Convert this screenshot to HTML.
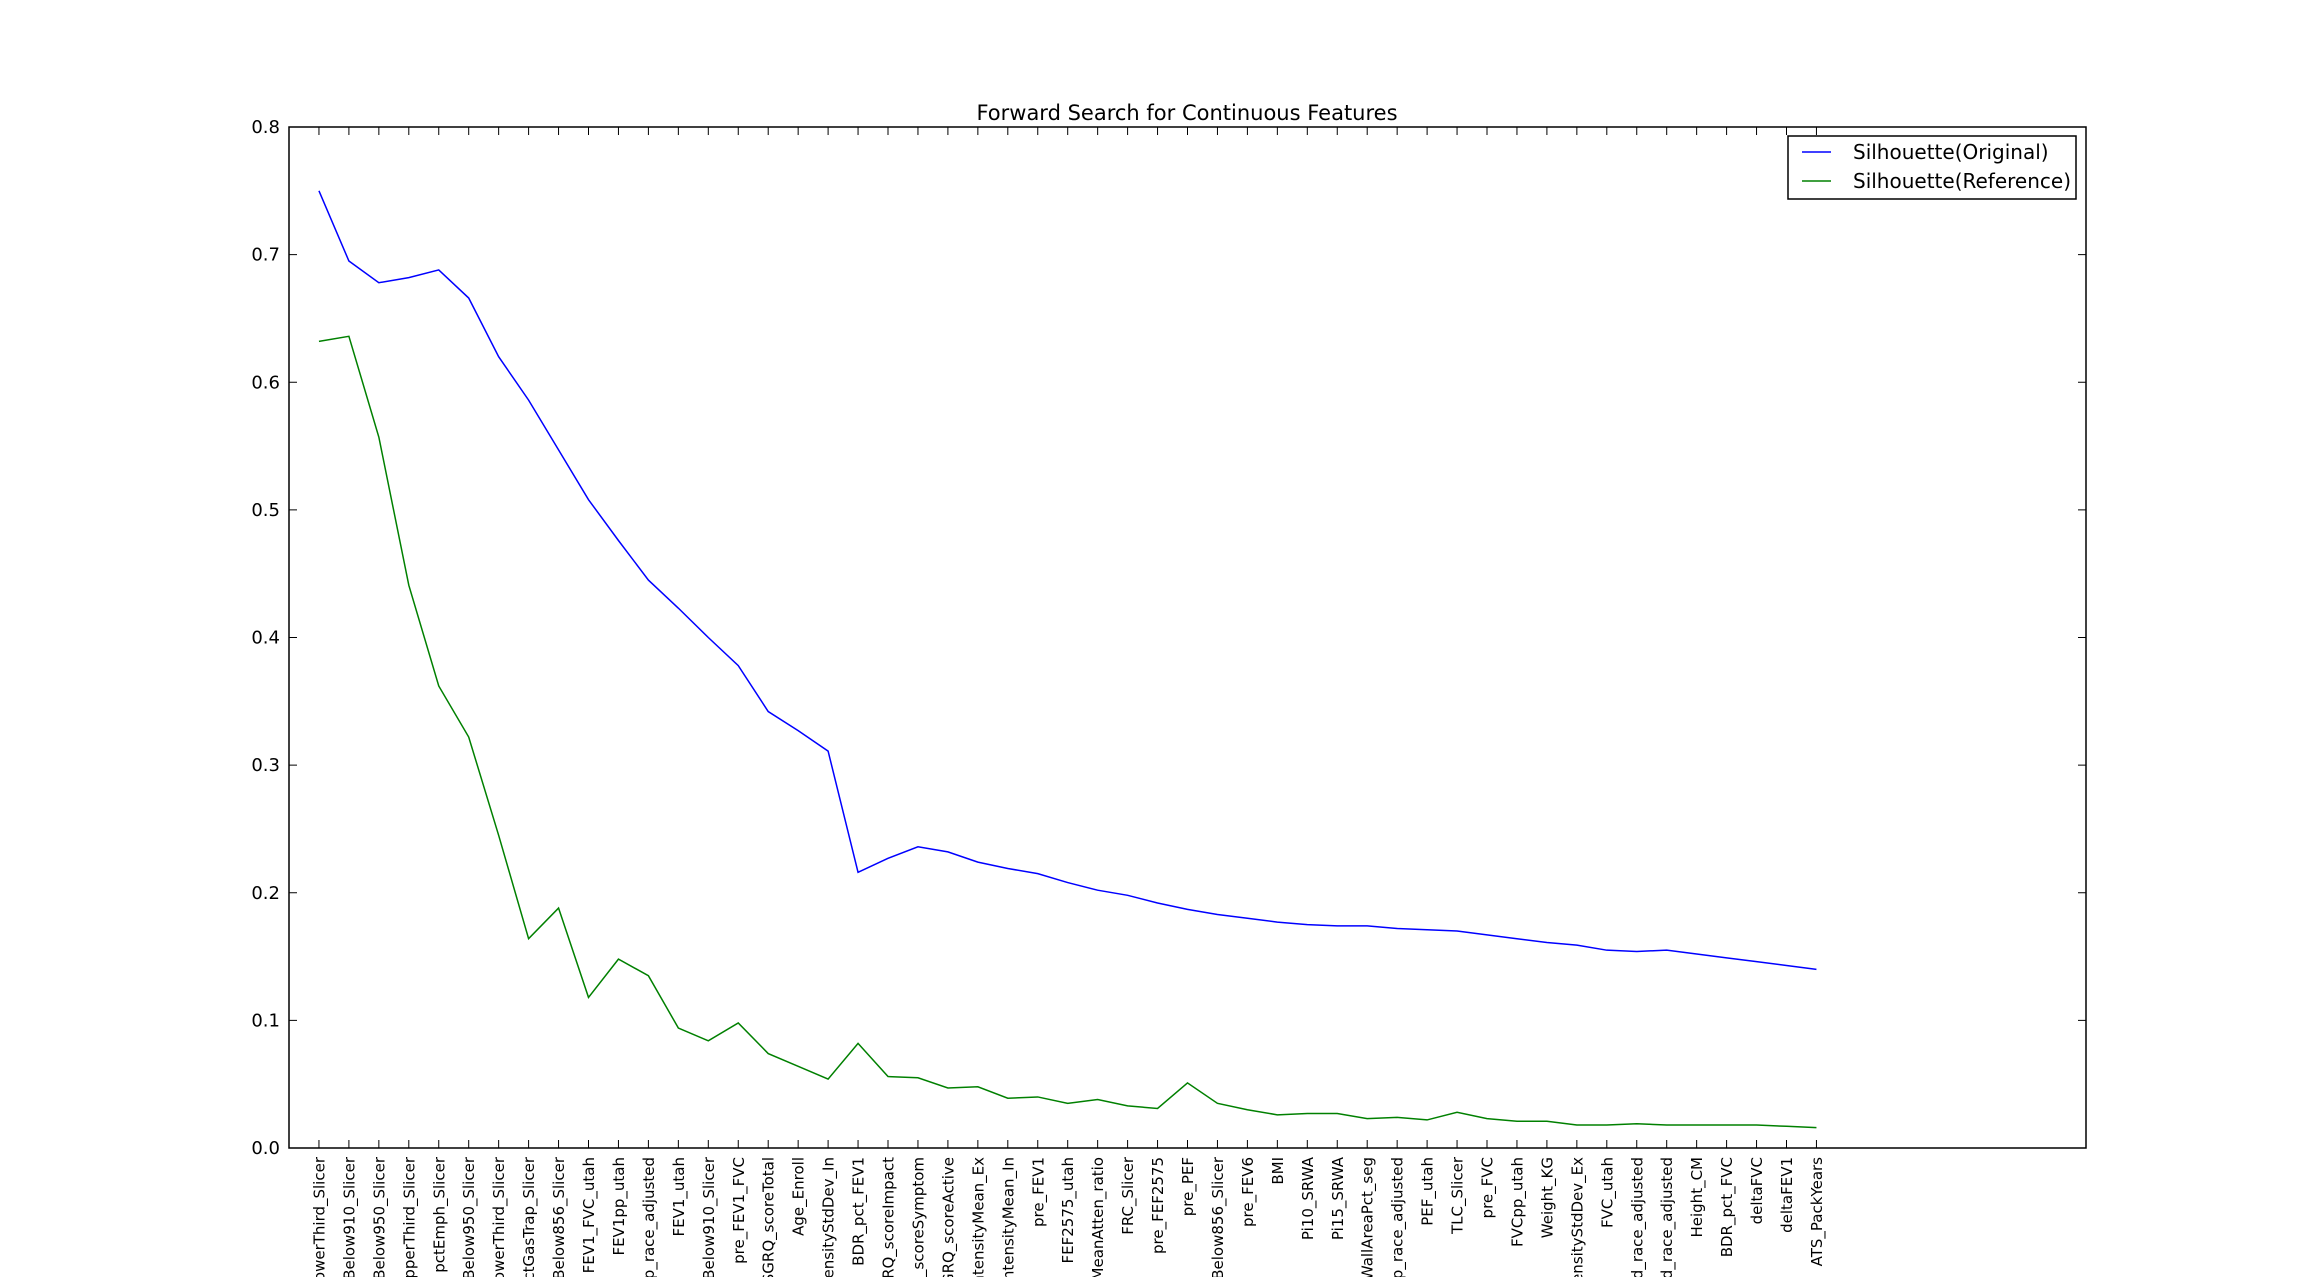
<!DOCTYPE html>
<html><head><meta charset="utf-8"><style>
html,body{margin:0;background:#fff;width:2318px;height:1277px;overflow:hidden;}
svg{display:block;font-family:"DejaVu Sans","Liberation Sans",sans-serif;}
</style></head><body>
<svg id="chart" width="2318" height="1277">
<text x="1187" y="120" text-anchor="middle" font-size="21">Forward Search for Continuous Features</text>
<g id="plot"></g>
<g id="legend">
<rect x="1788" y="136" width="288" height="63" fill="#fff" stroke="#000" stroke-width="1.5"/>
<line x1="1802" y1="152" x2="1831" y2="152" stroke="#0000ff" stroke-width="1.5"/>
<text x="1853" y="159" font-size="20">Silhouette(Original)</text>
<line x1="1802" y1="181" x2="1831" y2="181" stroke="#008000" stroke-width="1.5"/>
<text x="1853" y="188" font-size="20">Silhouette(Reference)</text>
</g>
</svg>
<script>
const categories = ["_LowerThird_Slicer","_Below910_Slicer","_Below950_Slicer","_UpperThird_Slicer","pctEmph_Slicer","_Below950_Slicer","_LowerThird_Slicer","pctGasTrap_Slicer","_Below856_Slicer","FEV1_FVC_utah","FEV1pp_utah","FEV1pp_race_adjusted","FEV1_utah","_Below910_Slicer","pre_FEV1_FVC","SGRQ_scoreTotal","Age_Enroll","IntensityStdDev_In","BDR_pct_FEV1","SGRQ_scoreImpact","SGRQ_scoreSymptom","SGRQ_scoreActive","IntensityMean_Ex","IntensityMean_In","pre_FEV1","FEF2575_utah","pMeanAtten_ratio","FRC_Slicer","pre_FEF2575","pre_PEF","_Below856_Slicer","pre_FEV6","BMI","Pi10_SRWA","Pi15_SRWA","WallAreaPct_seg","FVCpp_race_adjusted","PEF_utah","TLC_Slicer","pre_FVC","FVCpp_utah","Weight_KG","IntensityStdDev_Ex","FVC_utah","predicted_race_adjusted","predicted_race_adjusted","Height_CM","BDR_pct_FVC","deltaFVC","deltaFEV1","ATS_PackYears"];
const originalValues = [0.750,0.695,0.678,0.682,0.688,0.666,0.620,0.586,0.547,0.508,0.476,0.445,0.423,0.400,0.378,0.342,0.327,0.311,0.216,0.227,0.236,0.232,0.224,0.219,0.215,0.208,0.202,0.198,0.192,0.187,0.183,0.180,0.177,0.175,0.174,0.174,0.172,0.171,0.170,0.167,0.164,0.161,0.159,0.155,0.154,0.155,0.152,0.149,0.146,0.143,0.140];
const referenceValues = [0.632,0.636,0.557,0.441,0.362,0.322,0.245,0.164,0.188,0.118,0.148,0.135,0.094,0.084,0.098,0.074,0.064,0.054,0.082,0.056,0.055,0.047,0.048,0.039,0.040,0.035,0.038,0.033,0.031,0.051,0.035,0.030,0.026,0.027,0.027,0.023,0.024,0.022,0.028,0.023,0.021,0.021,0.018,0.018,0.019,0.018,0.018,0.018,0.018,0.017,0.016];
const yTickLabels = ["0.0","0.1","0.2","0.3","0.4","0.5","0.6","0.7","0.8"];
const yTickValues = [0,0.1,0.2,0.3,0.4,0.5,0.6,0.7,0.8];

const NS="http://www.w3.org/2000/svg";
const L=289,R=2086,T=127,B=1148;
const xMin=-1,xMax=59,yMin=0,yMax=0.8;
const xs=i=>L+(i-xMin)/(xMax-xMin)*(R-L);
const ys=v=>B-(v-yMin)/(yMax-yMin)*(B-T);
const g=document.getElementById('plot');
function mk(tag,attrs){const e=document.createElementNS(NS,tag);for(const k in attrs)e.setAttribute(k,attrs[k]);g.appendChild(e);return e;}

function series(vals,color,name){
  const p=mk('polyline',{points:vals.map((v,i)=>xs(i)+','+ys(v)).join(' '),fill:'none',stroke:color,'stroke-width':1.5});
  
  
}
series(originalValues,'#0000ff','line-silhouette-original');
series(referenceValues,'#008000','line-silhouette-reference');

const fr=mk('rect',{x:L,y:T,width:R-L,height:B-T,fill:'none',stroke:'#000','stroke-width':1.5});



yTickValues.forEach((v,i)=>{
  const y=ys(v);
  mk('line',{x1:L,y1:y,x2:L+8,y2:y,stroke:'#000'});
  mk('line',{x1:R,y1:y,x2:R-8,y2:y,stroke:'#000'});
  const t=mk('text',{x:L-9,y:y+6,'text-anchor':'end','font-size':18});
  t.textContent=yTickLabels[i];
  
  
});
categories.forEach((c,i)=>{
  const x=xs(i);
  mk('line',{x1:x,y1:B,x2:x,y2:B-8,stroke:'#000'});
  mk('line',{x1:x,y1:T,x2:x,y2:T+8,stroke:'#000'});
  const t=mk('text',{x:0,y:0,'text-anchor':'end','font-size':15,transform:`translate(${x+5.5},${B+9}) rotate(-90)`});
  t.textContent=c;
  
  
});
</script>
</body></html>
